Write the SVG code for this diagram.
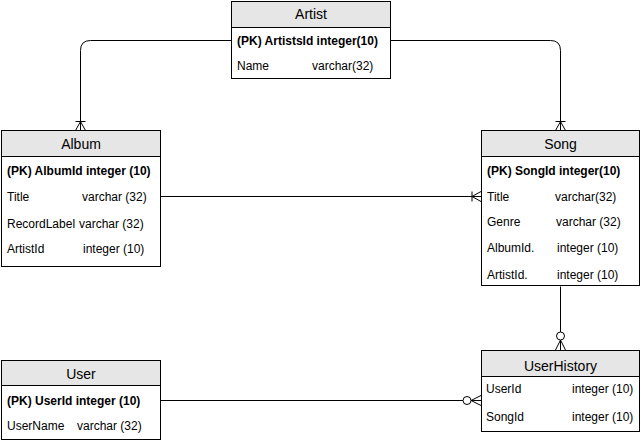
<svg xmlns="http://www.w3.org/2000/svg" width="641" height="444" viewBox="0 0 641 444">
<style>
.box{fill:#ffffff;stroke:#000000;stroke-width:1}
.hdr{fill:#e6e6e6;stroke:#000000;stroke-width:1}
.ttl{font-family:"Liberation Sans",Arial,sans-serif;font-size:14px;fill:#000;text-anchor:middle}
.t{font-family:"Liberation Sans",Arial,sans-serif;font-size:12px;fill:#000}
.b{font-weight:bold}
.edge{fill:none;stroke:#000000;stroke-width:1}
</style>
<defs>
<marker id="oneMany" markerUnits="userSpaceOnUse" viewBox="-14 -7 15 14" refX="0" refY="0" markerWidth="15" markerHeight="14" orient="auto">
<path d="M-9 -5 V5 M-9 0 L0 -5 M-9 0 L0 5 M-9 0 H0" fill="none" stroke="#000" stroke-width="1"/>
</marker>
<marker id="zeroMany" markerUnits="userSpaceOnUse" viewBox="-20 -7 21 14" refX="0" refY="0" markerWidth="21" markerHeight="14" orient="auto">
<path d="M-10 0 L0 -5 M-10 0 L0 5 M-10 0 H0" fill="none" stroke="#000" stroke-width="1"/>
<circle cx="-14" cy="0" r="4" fill="#fff" stroke="#000" stroke-width="1"/>
</marker>
</defs>
<g id="connectors">
<path class="edge" d="M231 40.5 H90.5 Q80.5 40.5 80.5 50.5 V130.5" marker-end="url(#oneMany)"/>
<path class="edge" d="M391 40.5 H550.5 Q560.5 40.5 560.5 50.5 V130.5" marker-end="url(#oneMany)"/>
<path class="edge" d="M161 196.5 H481" marker-end="url(#oneMany)"/>
<path class="edge" d="M560.5 286.5 V350" marker-end="url(#zeroMany)"/>
<path class="edge" d="M161 400.5 H481" marker-end="url(#zeroMany)"/>
</g>
<g id="Artist">
<rect class="box" x="231.5" y="1.5" width="159" height="77"/>
<rect class="hdr" x="231.5" y="1.5" width="159" height="26"/>
<text class="ttl" x="311" y="19">Artist</text>
<text class="t b" x="237" y="45">(PK) ArtistsId integer(10)</text>
<text class="t" x="237" y="70">Name</text>
<text class="t" x="312" y="70">varchar(32)</text>
</g>
<g id="Album">
<rect class="box" x="1.5" y="130.5" width="159" height="136"/>
<rect class="hdr" x="1.5" y="130.5" width="159" height="26"/>
<text class="ttl" x="81" y="148.5">Album</text>
<text class="t b" x="7" y="175">(PK) AlbumId integer (10)</text>
<text class="t" x="7" y="201">Title</text>
<text class="t" x="82" y="201">varchar (32)</text>
<text class="t" x="7" y="227.5">RecordLabel</text>
<text class="t" x="79" y="227.5">varchar (32)</text>
<text class="t" x="7" y="252.5">ArtistId</text>
<text class="t" x="83" y="252.5">integer (10)</text>
</g>
<g id="Song">
<rect class="box" x="481.5" y="130.5" width="158" height="155"/>
<rect class="hdr" x="481.5" y="130.5" width="158" height="26"/>
<text class="ttl" x="560.5" y="149">Song</text>
<text class="t b" x="487" y="175">(PK) SongId integer(10)</text>
<text class="t" x="487" y="200.5">Title</text>
<text class="t" x="555" y="200.5">varchar(32)</text>
<text class="t" x="487" y="226">Genre</text>
<text class="t" x="556" y="226">varchar (32)</text>
<text class="t" x="487" y="252">AlbumId.</text>
<text class="t" x="557" y="252">integer (10)</text>
<text class="t" x="487" y="278.5">ArtistId.</text>
<text class="t" x="557" y="278.5">integer (10)</text>
</g>
<g id="UserHistory">
<rect class="box" x="481.5" y="350.5" width="158" height="81"/>
<rect class="hdr" x="481.5" y="350.5" width="158" height="26"/>
<text class="ttl" x="560.5" y="370.5">UserHistory</text>
<text class="t" x="486" y="393">UserId</text>
<text class="t" x="572" y="393">integer (10)</text>
<text class="t" x="486" y="421">SongId</text>
<text class="t" x="572" y="421">integer (10)</text>
</g>
<g id="User">
<rect class="box" x="1.5" y="360.5" width="159" height="79"/>
<rect class="hdr" x="1.5" y="360.5" width="159" height="25"/>
<text class="ttl" x="81" y="379">User</text>
<text class="t b" x="7" y="405">(PK) UserId integer (10)</text>
<text class="t" x="7" y="430">UserName</text>
<text class="t" x="77" y="430">varchar (32)</text>
</g>
</svg>
